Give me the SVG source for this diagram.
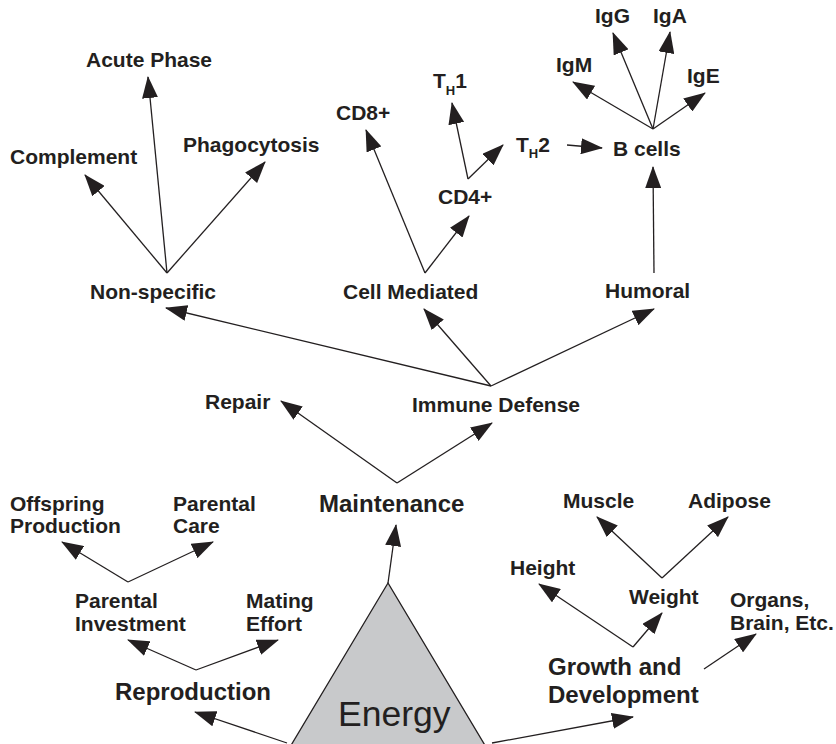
<svg xmlns="http://www.w3.org/2000/svg" width="836" height="744" viewBox="0 0 836 744">
<style>
text{font-family:"Liberation Sans",Arial,sans-serif;font-weight:bold;fill:#231f20;font-size:21px}
.big{font-size:24px}
.sub{font-size:13px}
.c line{stroke:#231f20;stroke-width:1.3;marker-end:url(#ah)}
</style>
<defs>
<marker id="ah" markerUnits="userSpaceOnUse" viewBox="0 0 22 16" markerWidth="22" markerHeight="16" refX="21" refY="8" orient="auto">
<path d="M0,0 L22,8 L0,16 z" fill="#231f20"/>
</marker>
</defs>
<rect width="836" height="744" fill="#fff"/>

<g id="energy">
<polygon points="388,583 290,747 486,747" fill="#c8c9cb" stroke="#231f20" stroke-width="1.3"/>
<text x="338" y="726" style="font-weight:normal;font-size:35.5px">Energy</text>
</g>

<g class="c" id="connectors">
<line x1="388" y1="583" x2="396" y2="525"/>
<line x1="287" y1="743" x2="195" y2="712"/>
<line x1="492" y1="743" x2="633" y2="717"/>
<line x1="397" y1="483" x2="281" y2="401"/>
<line x1="397" y1="483" x2="492" y2="423"/>
<line x1="491" y1="386" x2="166" y2="308"/>
<line x1="491" y1="386" x2="424" y2="309"/>
<line x1="491" y1="386" x2="654" y2="309"/>
<line x1="167" y1="273" x2="85" y2="175"/>
<line x1="167" y1="273" x2="148" y2="77"/>
<line x1="167" y1="273" x2="265" y2="162"/>
<line x1="425" y1="273" x2="366" y2="130"/>
<line x1="425" y1="273" x2="469" y2="216"/>
<line x1="468" y1="179" x2="452" y2="103"/>
<line x1="468" y1="179" x2="503" y2="145"/>
<line x1="567" y1="145" x2="602" y2="148"/>
<line x1="654" y1="273" x2="653" y2="167"/>
<line x1="653" y1="129" x2="573" y2="82"/>
<line x1="653" y1="129" x2="613" y2="33"/>
<line x1="653" y1="129" x2="670" y2="32"/>
<line x1="653" y1="129" x2="705" y2="93"/>
<line x1="128" y1="582" x2="62" y2="542"/>
<line x1="128" y1="582" x2="213" y2="542"/>
<line x1="196" y1="670" x2="128" y2="640"/>
<line x1="196" y1="670" x2="278" y2="640"/>
<line x1="633" y1="647" x2="539" y2="584"/>
<line x1="633" y1="647" x2="662" y2="613"/>
<line x1="704" y1="669" x2="756" y2="634"/>
<line x1="662" y1="578" x2="597" y2="517"/>
<line x1="662" y1="578" x2="728" y2="517"/>
</g>

<g id="maintenance"><text class="big" x="319" y="512">Maintenance</text></g>
<g id="reproduction"><text class="big" x="115" y="700">Reproduction</text></g>
<g id="growth"><text class="big" x="548" y="675">Growth and</text><text class="big" x="548" y="703">Development</text></g>
<g id="repair"><text x="205" y="409">Repair</text></g>
<g id="immune"><text x="412" y="412">Immune Defense</text></g>
<g id="nonspecific"><text x="90" y="299">Non-specific</text></g>
<g id="cellmediated"><text x="343" y="299">Cell Mediated</text></g>
<g id="humoral"><text x="605" y="298">Humoral</text></g>
<g id="complement"><text x="10" y="164">Complement</text></g>
<g id="acute"><text x="86" y="67">Acute Phase</text></g>
<g id="phagocytosis"><text x="183" y="152">Phagocytosis</text></g>
<g id="cd8"><text x="336" y="120">CD8+</text></g>
<g id="cd4"><text x="438" y="204">CD4+</text></g>
<g id="th1"><text x="433" y="88">T<tspan class="sub" dy="7">H</tspan><tspan dy="-7">1</tspan></text></g>
<g id="th2"><text x="516" y="152">T<tspan class="sub" dy="6">H</tspan><tspan dy="-6">2</tspan></text></g>
<g id="bcells"><text x="613" y="156">B cells</text></g>
<g id="igm"><text x="556" y="72">IgM</text></g>
<g id="igg"><text x="595" y="23">IgG</text></g>
<g id="iga"><text x="653" y="23">IgA</text></g>
<g id="ige"><text x="687" y="83">IgE</text></g>
<g id="offspring"><text x="10" y="511">Offspring</text><text x="10" y="533">Production</text></g>
<g id="parentalcare"><text x="173" y="511">Parental</text><text x="173" y="533">Care</text></g>
<g id="parentalinv"><text x="75" y="608">Parental</text><text x="75" y="631">Investment</text></g>
<g id="mating"><text x="246" y="608">Mating</text><text x="246" y="631">Effort</text></g>
<g id="muscle"><text x="563" y="508">Muscle</text></g>
<g id="adipose"><text x="688" y="508">Adipose</text></g>
<g id="height"><text x="510" y="575">Height</text></g>
<g id="weight"><text x="629" y="604">Weight</text></g>
<g id="organs"><text x="730" y="607">Organs,</text><text x="730" y="630">Brain, Etc.</text></g>
</svg>
